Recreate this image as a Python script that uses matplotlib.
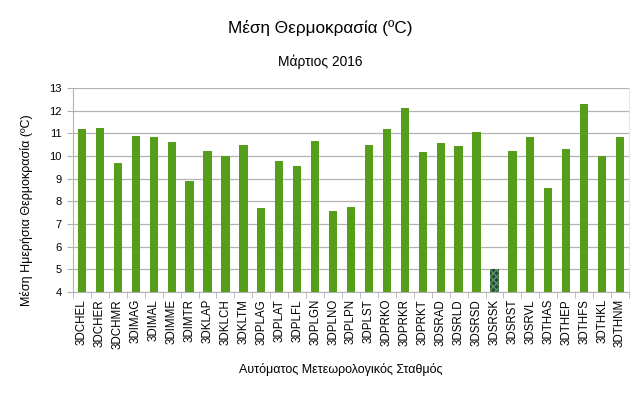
import matplotlib
matplotlib.use("Agg")
import matplotlib.pyplot as plt
import numpy as np

plt.rcParams['font.family'] = ['Liberation Sans', 'DejaVu Sans']
plt.rcParams['hatch.linewidth'] = 1.0

stations = ["3DCHEL", "3DCHER", "3DCHMR", "3DIMAG", "3DIMAL", "3DIMME", "3DIMTR",
            "3DKLAP", "3DKLCH", "3DKLTM", "3DPLAG", "3DPLAT", "3DPLFL", "3DPLGN",
            "3DPLNO", "3DPLPN", "3DPLST", "3DPRKO", "3DPRKR", "3DPRKT", "3DSRAD",
            "3DSRLD", "3DSRSD", "3DSRSK", "3DSRST", "3DSRVL", "3DTHAS", "3DTHEP",
            "3DTHFS", "3DTHKL", "3DTHNM"]
temps = [11.2, 11.24, 9.68, 10.88, 10.84, 10.6, 8.9,
         10.24, 10.0, 10.49, 7.71, 9.76, 9.57, 10.65,
         7.59, 7.74, 10.49, 11.21, 12.12, 10.18, 10.57,
         10.46, 11.04, 5.0, 10.21, 10.85, 8.57, 10.29,
         12.29, 10.0, 10.85]
highlight = "3DSRSK"
yticks = list(range(4, 14))

W, H = 642, 395
fig = plt.figure(figsize=(W / 100, H / 100), dpi=100)
ax = fig.add_axes([73/W, 1-292/H, (629-73)/W, (292-88)/H])

x = np.arange(len(stations))
base = 4
heights = [t - base for t in temps]
colors = ['#1f4d2e' if s == highlight else '#579d1c' for s in stations]
bars = ax.bar(x, heights, bottom=base, width=0.46, color=colors, zorder=3)
for b, s in zip(bars, stations):
    if s == highlight:
        b.set_hatch('xxxxx')
        b.set_edgecolor('#5f8f6a')
        b.set_linewidth(0)

ax.set_xlim(-0.5, len(stations) - 0.5)
ax.set_ylim(4, 13)
ax.set_yticks(yticks)
ax.set_xticks(x)
ax.set_xticklabels(stations, rotation=90, fontsize=8.3)
ax.set_xticks(np.arange(-0.5, len(stations), 1), minor=True)
ax.tick_params(axis='x', which='major', length=0, pad=5)
ax.tick_params(axis='x', which='minor', length=4, color='#b3b3b3', direction='out')
ax.tick_params(axis='y', length=4, color='#b3b3b3', labelsize=8, pad=4)
ax.yaxis.grid(True, color='#b3b3b3', linewidth=0.9, zorder=0)
for side in ['left', 'bottom']:
    ax.spines[side].set_color('#b3b3b3')
ax.spines['right'].set_color('#e6e6e6')
ax.spines['top'].set_visible(False)

fig.text(27/W, 1-210/H, "Μέση Ημερήσια Θερμοκρασία (ºC)", rotation=90,
         ha='center', va='center', fontsize=9)
fig.text(341/W, 1-370/H, "Αυτόματος Μετεωρολογικός Σταθμός",
         ha='center', va='center', fontsize=9)

fig.text(320/W, 1-28/H, "Μέση Θερμοκρασία (ºC)", ha='center', va='center', fontsize=12.3)
fig.text(320/W, 1-62/H, "Μάρτιος 2016", ha='center', va='center', fontsize=9.9)

fig.savefig("out.png", dpi=100)
